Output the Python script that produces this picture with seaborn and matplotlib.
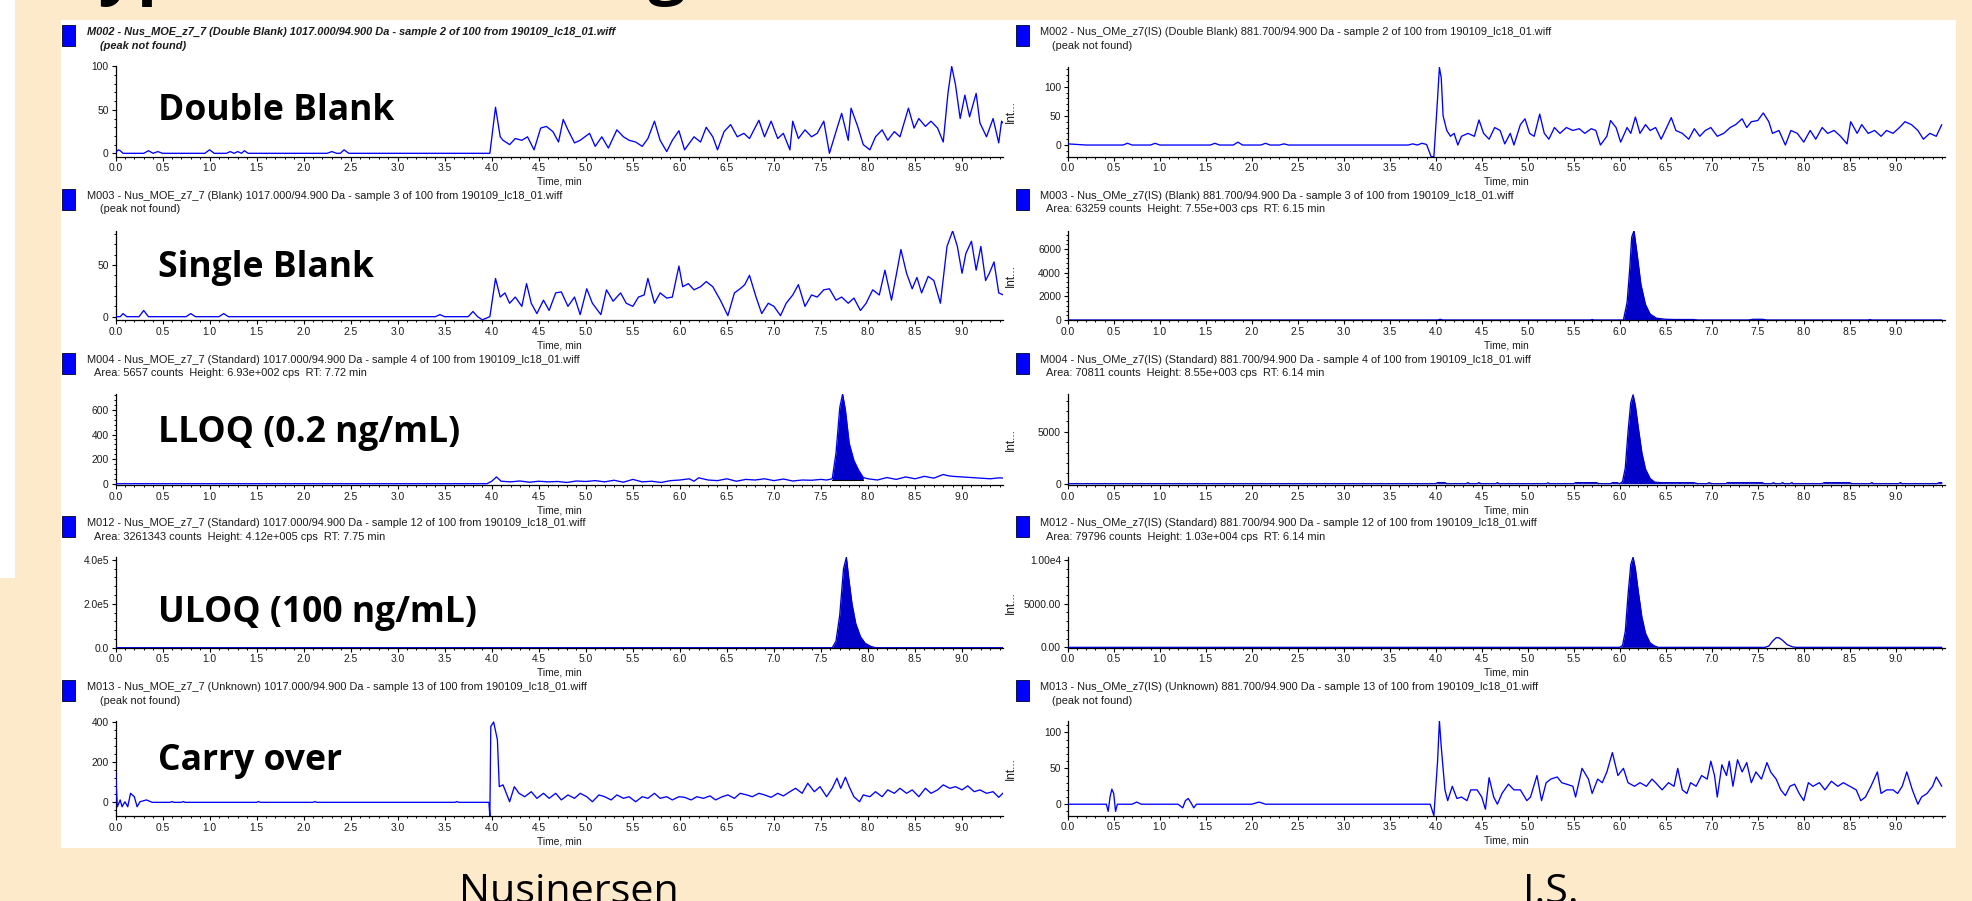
import numpy as np
import matplotlib
matplotlib.use("Agg")
import matplotlib.pyplot as plt
import seaborn as sns
from matplotlib.patches import Rectangle
from matplotlib.ticker import FixedLocator, FixedFormatter, MultipleLocator, AutoMinorLocator

# ---------------------------------------------------------------- data
X_TICKS = [0.0, 0.5, 1.0, 1.5, 2.0, 2.5, 3.0, 3.5, 4.0, 4.5, 5.0, 5.5, 6.0, 6.5, 7.0, 7.5, 8.0, 8.5, 9.0]
X_TICK_LABELS = ["0.0", "0.5", "1.0", "1.5", "2.0", "2.5", "3.0", "3.5", "4.0", "4.5",
                 "5.0", "5.5", "6.0", "6.5", "7.0", "7.5", "8.0", "8.5", "9.0"]

# Nusinersen column (time min, intensity cps)
DOUBLE_BLANK = [(0.0, 1), (0.03, 4), (0.05, 3), (0.08, 0), (0.3, 0), (0.35, 3), (0.4, 0), (0.45, 2), (0.5, 0),
    (0.95, 0), (1.0, 4), (1.05, 0), (1.18, 0), (1.22, 2), (1.26, 0), (1.3, 2), (1.34, 0), (1.37, 3), (1.41, 0),
    (2.25, 0), (2.3, 2), (2.35, 0), (2.39, 0), (2.43, 4), (2.48, 0), (3.98, 0),
    (4.04, 53), (4.09, 19), (4.12, 15), (4.19, 10), (4.25, 17), (4.32, 15), (4.38, 19), (4.45, 4), (4.52, 29), (4.58, 31),
    (4.65, 25), (4.71, 13), (4.76, 39), (4.81, 27), (4.88, 12), (4.94, 15), (5.04, 23), (5.10, 8), (5.17, 19), (5.24, 6),
    (5.33, 27), (5.40, 19), (5.46, 15), (5.53, 13), (5.60, 8), (5.66, 17), (5.73, 37), (5.79, 15), (5.86, 2), (5.92, 15),
    (5.99, 26), (6.05, 4), (6.15, 19), (6.22, 13), (6.28, 30), (6.35, 19), (6.40, 4), (6.47, 25), (6.54, 33), (6.61, 19),
    (6.68, 23), (6.74, 17), (6.84, 38), (6.90, 19), (6.97, 37), (7.04, 17), (7.10, 23), (7.17, 4), (7.20, 37), (7.26, 17),
    (7.33, 27), (7.40, 19), (7.46, 23), (7.53, 37), (7.59, 0), (7.66, 25), (7.72, 46), (7.79, 15), (7.82, 52), (7.89, 31),
    (7.95, 10), (8.02, 4), (8.08, 19), (8.15, 27), (8.21, 15), (8.28, 25), (8.34, 19), (8.43, 52), (8.49, 29), (8.54, 40),
    (8.61, 31), (8.67, 37), (8.74, 29), (8.80, 13), (8.85, 69), (8.89, 100), (8.93, 79), (8.98, 40), (9.03, 67), (9.08, 42),
    (9.15, 69), (9.19, 35), (9.26, 19), (9.33, 40), (9.39, 12), (9.42, 37), (9.49, 27)]

SINGLE_BLANK = [(0.0, 0), (0.05, 0), (0.08, 3), (0.12, 0), (0.25, 0), (0.3, 6), (0.35, 0), (0.75, 0), (0.8, 3), (0.85, 0),
    (1.1, 0), (1.15, 3), (1.2, 0), (3.4, 0), (3.45, 2), (3.5, 0), (3.75, 0), (3.8, 5), (3.85, 0), (3.9, -3), (3.98, 0),
    (4.04, 37), (4.09, 19), (4.14, 23), (4.19, 13), (4.25, 19), (4.32, 10), (4.37, 32), (4.42, 13), (4.48, 3), (4.55, 16),
    (4.61, 6), (4.68, 23), (4.74, 24), (4.81, 10), (4.88, 19), (4.94, 2), (5.01, 27), (5.07, 13), (5.16, 2), (5.22, 26),
    (5.29, 15), (5.37, 23), (5.43, 13), (5.50, 10), (5.56, 19), (5.62, 21), (5.66, 37), (5.73, 13), (5.79, 23), (5.86, 18),
    (5.92, 19), (5.99, 49), (6.03, 29), (6.09, 32), (6.15, 26), (6.22, 29), (6.28, 34), (6.35, 29), (6.43, 16), (6.51, 1),
    (6.58, 23), (6.64, 27), (6.69, 31), (6.74, 40), (6.81, 19), (6.87, 3), (6.94, 13), (7.00, 10), (7.07, 1), (7.13, 13),
    (7.20, 21), (7.26, 31), (7.33, 10), (7.40, 21), (7.46, 19), (7.53, 26), (7.59, 27), (7.66, 16), (7.72, 19), (7.79, 13),
    (7.85, 18), (7.92, 6), (7.98, 13), (8.05, 26), (8.12, 21), (8.18, 45), (8.25, 16), (8.31, 45), (8.35, 65), (8.41, 42),
    (8.47, 27), (8.52, 38), (8.57, 23), (8.64, 39), (8.70, 35), (8.77, 13), (8.84, 68), (8.90, 83), (8.95, 68), (9.00, 42),
    (9.04, 61), (9.10, 73), (9.15, 45), (9.20, 68), (9.25, 35), (9.29, 42), (9.34, 53), (9.39, 23), (9.44, 21), (9.49, 31)]

LLOQ = [(0.0, 0), (3.95, 0), (4.0, 20), (4.05, 55), (4.1, 20), (4.2, 15), (4.3, 22), (4.4, 12), (4.5, 20), (4.6, 15),
    (4.7, 18), (4.8, 10), (4.9, 22), (5.0, 18), (5.1, 25), (5.2, 15), (5.3, 28), (5.4, 12), (5.5, 35), (5.6, 15),
    (5.7, 20), (5.8, 10), (5.9, 25), (6.0, 30), (6.1, 40), (6.15, 20), (6.2, 48), (6.3, 30), (6.4, 25), (6.5, 40),
    (6.6, 20), (6.7, 35), (6.8, 30), (6.9, 40), (7.0, 25), (7.1, 38), (7.2, 22), (7.3, 30), (7.4, 28), (7.5, 35),
    (7.56, 30), (7.62, 40), (7.66, 250), (7.70, 620), (7.73, 730), (7.76, 600), (7.80, 330), (7.85, 190), (7.90, 110),
    (7.95, 50), (8.0, 40), (8.1, 30), (8.2, 50), (8.3, 35), (8.4, 55), (8.5, 40), (8.6, 60), (8.7, 45), (8.8, 75),
    (8.85, 65), (8.9, 60), (9.0, 55), (9.1, 50), (9.2, 45), (9.3, 40), (9.4, 48), (9.49, 42)]
LLOQ_PEAK = (7.62, 7.95, 30)   # integration start, end, baseline

ULOQ = [(0.0, 0), (7.62, 0), (7.66, 3e4), (7.70, 1.5e5), (7.74, 3.6e5), (7.77, 4.12e5), (7.80, 3.0e5), (7.83, 2.0e5),
    (7.87, 1.1e5), (7.92, 5e4), (7.97, 2e4), (8.03, 6e3), (8.08, 0), (9.49, 0)]
ULOQ_PEAK = (7.62, 8.08, 0)

CARRY_OVER = [(0.0, 153), (0.02, -22), (0.05, 12), (0.07, -22), (0.10, 3), (0.13, -22), (0.16, 45), (0.20, 28), (0.23, -22),
    (0.26, 3), (0.33, 12), (0.39, 0), (0.58, 0), (0.6, 4), (0.62, 0), (0.7, 0), (0.72, 4), (0.74, 0), (1.5, 0), (1.52, 4),
    (1.54, 0), (2.1, 0), (2.12, 4), (2.14, 0), (3.61, 0), (3.63, 4), (3.65, 0), (3.97, 0), (3.98, -72), (3.99, 378),
    (4.02, 400), (4.06, 312), (4.08, 78), (4.12, 87), (4.19, 3), (4.24, 78), (4.29, 45), (4.35, 28), (4.42, 53), (4.48, 20),
    (4.55, 45), (4.61, 20), (4.68, 45), (4.74, 12), (4.81, 37), (4.88, 20), (4.94, 45), (5.01, 28), (5.07, 3), (5.14, 37),
    (5.20, 28), (5.27, 12), (5.33, 37), (5.40, 20), (5.46, 28), (5.53, 3), (5.60, 28), (5.66, 20), (5.73, 45), (5.79, 20),
    (5.86, 28), (5.92, 12), (5.99, 28), (6.05, 25), (6.12, 12), (6.18, 28), (6.25, 20), (6.32, 32), (6.38, 12), (6.45, 28),
    (6.51, 37), (6.58, 20), (6.64, 45), (6.71, 37), (6.77, 28), (6.84, 45), (6.90, 37), (6.97, 25), (7.04, 45), (7.10, 32),
    (7.17, 53), (7.23, 70), (7.30, 45), (7.36, 95), (7.43, 53), (7.49, 78), (7.56, 28), (7.62, 70), (7.67, 120), (7.71, 70),
    (7.76, 125), (7.80, 78), (7.85, 28), (7.91, 3), (7.95, 37), (8.02, 28), (8.08, 53), (8.15, 28), (8.21, 62), (8.28, 45),
    (8.34, 70), (8.41, 45), (8.47, 62), (8.54, 28), (8.61, 70), (8.67, 45), (8.74, 62), (8.80, 87), (8.87, 70), (8.93, 78),
    (9.00, 62), (9.06, 82), (9.13, 53), (9.19, 62), (9.26, 45), (9.33, 53), (9.39, 25), (9.44, 48), (9.49, 45)]

# I.S. column
IS_DOUBLE_BLANK = [(0.0, 2), (0.1, 1), (0.2, 0), (0.6, 0), (0.65, 3), (0.7, 0), (0.9, 0), (0.95, 3), (1.0, 0), (1.55, 0),
    (1.6, 3), (1.65, 0), (1.8, 0), (1.85, 5), (1.9, 0), (2.1, 0), (2.15, 3), (2.2, 0), (2.3, 0), (2.35, 2), (2.4, 0),
    (3.7, 0), (3.75, 2), (3.8, 0), (3.85, 3), (3.9, 1), (3.95, -20), (3.98, -20), (4.02, 80), (4.04, 133), (4.06, 115),
    (4.08, 50), (4.12, 25), (4.16, 15), (4.20, 20), (4.24, 0), (4.28, 15), (4.35, 20), (4.42, 15), (4.47, 43), (4.52, 20),
    (4.58, 10), (4.64, 30), (4.70, 25), (4.75, 2), (4.81, 20), (4.85, 0), (4.92, 35), (4.97, 45), (5.02, 20), (5.07, 15),
    (5.13, 53), (5.18, 20), (5.23, 10), (5.29, 30), (5.35, 20), (5.42, 30), (5.49, 25), (5.56, 28), (5.62, 20), (5.69, 28),
    (5.74, 25), (5.79, 0), (5.86, 15), (5.90, 42), (5.96, 30), (6.01, 5), (6.08, 30), (6.12, 20), (6.17, 48), (6.22, 20),
    (6.28, 35), (6.33, 25), (6.39, 30), (6.45, 10), (6.51, 30), (6.56, 47), (6.61, 25), (6.68, 20), (6.75, 10), (6.81, 28),
    (6.87, 15), (6.93, 25), (6.99, 30), (7.06, 15), (7.13, 20), (7.20, 30), (7.26, 35), (7.33, 45), (7.38, 30), (7.43, 40),
    (7.50, 42), (7.56, 55), (7.62, 40), (7.66, 20), (7.73, 25), (7.80, 0), (7.86, 25), (7.93, 20), (8.00, 5), (8.07, 25),
    (8.13, 10), (8.20, 30), (8.26, 20), (8.33, 25), (8.40, 15), (8.47, 2), (8.51, 40), (8.58, 20), (8.63, 35), (8.70, 20),
    (8.77, 25), (8.84, 15), (8.90, 25), (8.97, 20), (9.04, 30), (9.10, 40), (9.17, 35), (9.24, 25), (9.30, 10), (9.37, 20),
    (9.44, 15), (9.50, 35)]

IS_BLANK = [(0.0, 0), (4.02, 0), (4.05, 60), (4.08, 0), (5.68, 0), (5.7, 40), (5.72, 0), (6.04, 0), (6.08, 1500),
    (6.11, 4500), (6.13, 7000), (6.155, 7550), (6.19, 5500), (6.23, 3000), (6.28, 1300), (6.33, 500), (6.40, 150),
    (6.50, 60), (6.6, 40), (6.8, 40), (6.85, 0), (7.4, 0), (7.45, 60), (7.55, 60), (7.6, 0), (8.7, 0), (8.72, 40),
    (8.74, 0), (9.5, 0)]
IS_BLANK_PEAK = (0.0, 9.5, 0)

IS_LLOQ = [(0.0, 0), (4.0, 0), (4.02, 100), (4.1, 100), (4.12, 0), (4.33, 0), (4.35, 100), (4.37, 0), (4.45, 0),
    (4.47, 100), (4.49, 0), (4.65, 0), (4.67, 100), (4.69, 0), (5.2, 0), (5.22, 80), (5.24, 0), (5.5, 0), (5.52, 100),
    (5.75, 100), (5.77, 0), (5.9, 0), (5.92, 100), (5.97, 100), (6.0, 0), (6.03, 200), (6.06, 1500), (6.09, 5000),
    (6.12, 7800), (6.145, 8550), (6.17, 7500), (6.2, 5500), (6.24, 3000), (6.28, 1400), (6.33, 500), (6.38, 150),
    (6.45, 100), (6.8, 100), (6.85, 0), (6.95, 0), (6.97, 100), (7.0, 0), (7.15, 0), (7.17, 100), (7.55, 100), (7.57, 0),
    (7.65, 0), (7.67, 100), (7.69, 0), (7.75, 0), (7.77, 100), (7.79, 0), (7.85, 0), (7.87, 100), (7.89, 0), (8.2, 0),
    (8.22, 100), (8.5, 100), (8.52, 0), (8.72, 0), (8.74, 100), (8.76, 0), (9.03, 0), (9.05, 100), (9.07, 0), (9.45, 0),
    (9.47, 100), (9.5, 100)]
IS_LLOQ_PEAK = (0.0, 9.5, 0)

IS_ULOQ = [(0.0, 0), (6.0, 0), (6.03, 200), (6.06, 1800), (6.09, 6000), (6.12, 9500), (6.145, 10300), (6.17, 9000),
    (6.2, 6500), (6.24, 3500), (6.28, 1600), (6.33, 500), (6.38, 150), (6.42, 0), (7.58, 0), (7.62, 150), (7.66, 700),
    (7.70, 1100), (7.73, 1100), (7.77, 800), (7.82, 300), (7.88, 50), (7.92, 0), (9.5, 0)]
IS_ULOQ_PEAK = (6.0, 6.42, 0)

IS_CARRY_OVER = [(0.0, 0), (0.42, 0), (0.44, -10), (0.46, 10), (0.48, 21), (0.5, 15), (0.52, -10), (0.54, 0), (0.7, 0),
    (0.75, 3), (0.8, 0), (1.2, 0), (1.25, -5), (1.28, 5), (1.31, 8), (1.34, 2), (1.37, -5), (1.4, 0), (2.0, 0), (2.08, 3),
    (2.15, 0), (3.94, 0), (3.98, -16), (4.02, 60), (4.04, 116), (4.06, 80), (4.10, 20), (4.13, 5), (4.18, 25), (4.23, 8),
    (4.28, 10), (4.34, 5), (4.38, 20), (4.45, 20), (4.50, 10), (4.54, -7), (4.58, 37), (4.63, 10), (4.67, 0), (4.72, 15),
    (4.79, 28), (4.85, 20), (4.92, 20), (4.99, 5), (5.03, 10), (5.10, 40), (5.15, 5), (5.20, 30), (5.25, 35), (5.32, 38),
    (5.37, 30), (5.42, 28), (5.49, 25), (5.52, 10), (5.59, 50), (5.66, 35), (5.70, 15), (5.76, 35), (5.81, 30), (5.86, 45),
    (5.92, 72), (5.98, 40), (6.04, 50), (6.09, 30), (6.16, 25), (6.22, 30), (6.29, 25), (6.35, 35), (6.39, 30), (6.46, 20),
    (6.53, 30), (6.59, 25), (6.63, 50), (6.68, 20), (6.73, 15), (6.77, 30), (6.83, 25), (6.89, 40), (6.95, 35), (6.99, 60),
    (7.03, 40), (7.06, 10), (7.11, 55), (7.16, 40), (7.19, 60), (7.23, 25), (7.28, 62), (7.33, 45), (7.38, 58), (7.43, 30),
    (7.48, 45), (7.54, 35), (7.60, 58), (7.64, 45), (7.70, 35), (7.75, 20), (7.80, 12), (7.85, 25), (7.90, 28), (7.95, 15),
    (8.00, 5), (8.05, 30), (8.10, 25), (8.17, 30), (8.23, 20), (8.30, 32), (8.37, 25), (8.43, 30), (8.50, 25), (8.57, 20),
    (8.62, 5), (8.67, 10), (8.73, 25), (8.80, 45), (8.84, 15), (8.90, 20), (8.97, 20), (9.02, 15), (9.07, 25), (9.12, 45),
    (9.18, 20), (9.24, 0), (9.28, 10), (9.34, 15), (9.40, 25), (9.44, 38), (9.50, 25)]

LEFT_TRACES = [DOUBLE_BLANK, SINGLE_BLANK, LLOQ, ULOQ, CARRY_OVER]
LEFT_PEAKS = [None, None, LLOQ_PEAK, ULOQ_PEAK, None]
RIGHT_TRACES = [IS_DOUBLE_BLANK, IS_BLANK, IS_LLOQ, IS_ULOQ, IS_CARRY_OVER]
RIGHT_PEAKS = [None, IS_BLANK_PEAK, IS_LLOQ_PEAK, IS_ULOQ_PEAK, None]

LEFT_YTICKS = [[0, 50, 100], [0, 50], [0, 200, 400, 600], [0, 2e5, 4e5], [0, 200, 400]]
LEFT_YLABELS = [["0", "50", "100"], ["0", "50"], ["0", "200", "400", "600"], ["0.0", "2.0e5", "4.0e5"], ["0", "200", "400"]]
RIGHT_YTICKS = [[0, 50, 100], [0, 2000, 4000, 6000], [0, 5000], [0, 5000, 1e4], [0, 50, 100]]
RIGHT_YLABELS = [["0", "50", "100"], ["0", "2000", "4000", "6000"], ["0", "5000"], ["0.00", "5000.00", "1.00e4"], ["0", "50", "100"]]

LEFT_HEAD = [
    "M002 - Nus_MOE_z7_7 (Double Blank) 1017.000/94.900 Da - sample 2 of 100 from 190109_lc18_01.wiff",
    "M003 - Nus_MOE_z7_7 (Blank) 1017.000/94.900 Da - sample 3 of 100 from 190109_lc18_01.wiff",
    "M004 - Nus_MOE_z7_7 (Standard) 1017.000/94.900 Da - sample 4 of 100 from 190109_lc18_01.wiff",
    "M012 - Nus_MOE_z7_7 (Standard) 1017.000/94.900 Da - sample 12 of 100 from 190109_lc18_01.wiff",
    "M013 - Nus_MOE_z7_7 (Unknown) 1017.000/94.900 Da - sample 13 of 100 from 190109_lc18_01.wiff"]
LEFT_SUB = ["(peak not found)", "(peak not found)",
    "Area: 5657 counts  Height: 6.93e+002 cps  RT: 7.72 min",
    "Area: 3261343 counts  Height: 4.12e+005 cps  RT: 7.75 min",
    "(peak not found)"]
RIGHT_HEAD = [
    "M002 - Nus_OMe_z7(IS) (Double Blank) 881.700/94.900 Da - sample 2 of 100 from 190109_lc18_01.wiff",
    "M003 - Nus_OMe_z7(IS) (Blank) 881.700/94.900 Da - sample 3 of 100 from 190109_lc18_01.wiff",
    "M004 - Nus_OMe_z7(IS) (Standard) 881.700/94.900 Da - sample 4 of 100 from 190109_lc18_01.wiff",
    "M012 - Nus_OMe_z7(IS) (Standard) 881.700/94.900 Da - sample 12 of 100 from 190109_lc18_01.wiff",
    "M013 - Nus_OMe_z7(IS) (Unknown) 881.700/94.900 Da - sample 13 of 100 from 190109_lc18_01.wiff"]
RIGHT_SUB = ["(peak not found)",
    "Area: 63259 counts  Height: 7.55e+003 cps  RT: 6.15 min",
    "Area: 70811 counts  Height: 8.55e+003 cps  RT: 6.14 min",
    "Area: 79796 counts  Height: 1.03e+004 cps  RT: 6.14 min",
    "(peak not found)"]

SAMPLE_LABELS = ["Double Blank", "Single Blank", "LLOQ (0.2 ng/mL)", "ULOQ (100 ng/mL)", "Carry over"]
COLUMN_LABELS = ["Nusinersen", "I.S."]
SLIDE_TITLE = "Typical Chromatograms"

# ---------------------------------------------------------------- layout (pixels)
W, H = 1972, 901
BEIGE = "#FDEACA"
LINE = "#0000FF"
FILL = "#0000C8"
TXT = "#1c1c1c"

ROW_TOP_L = [66, 230.7, 394.3, 557.3, 721]
ROW_BOT_L = [156.7, 320, 485, 647.7, 816]
ROW_TOP_R = [66.7, 230.7, 394.3, 557.3, 721]
ROW_BOT_R = [156.7, 320, 485, 647.7, 815.7]
YLIM_L = [(-3.9, 100.5), (-3.2, 83.2), (-10.6, 728), (0, 4.12e5), (-68, 405)]
YLIM_R = [(-20, 134.3), (0, 7550), (-125, 8600), (-40, 1.03e4), (-16, 116)]
AX_L = (115.5, 1002.5, 9.43)
AX_R = (1067.7, 1945.0, 9.535)
HDR_Y1 = [32, 196, 360, 523.3, 687.3]
HDR_Y2 = [46, 209, 372.7, 536.7, 701]
LABEL_BASE = [120, 276.7, 441.7, 621.7, 770]

sns.set_theme(style="white")
plt.rcParams["font.family"] = ["Liberation Sans", "DejaVu Sans"]

fig = plt.figure(figsize=(W / 100, H / 100), dpi=100, facecolor=BEIGE)
R = fig.canvas.get_renderer()


def fx(px):
    return px / W


def fy(py):
    return 1 - py / H


def text_w(text, size=10, **kw):
    t = fig.text(0, 0, text, fontsize=size, **kw)
    w = t.get_window_extent(renderer=R).width
    t.remove()
    return w


def fit_size(text, target_px, **kw):
    return 10 * target_px / text_w(text, **kw)


# slide background pieces
fig.patches.append(Rectangle((0, fy(578)), fx(15), 578 / H, transform=fig.transFigure,
                             facecolor="white", edgecolor="none", zorder=-5))
fig.patches.append(Rectangle((fx(61), fy(848)), fx(1956 - 61), (848 - 20) / H, transform=fig.transFigure,
                             facecolor="white", edgecolor="none", zorder=-5))

# cut-off slide title: only the descenders of y, p and g show at the top edge
title_kw = dict(fontweight="bold", family=["Open Sans", "DejaVu Sans"])
w_T = text_w("T", **title_kw)
w_pre = text_w("Typical Chromato", **title_kw)
title_size = 10 * 550 / (w_pre - w_T)
title_x = 100 - w_T * title_size / 10
em_px = title_size * 100 / 72
title_base = -(0.24 * em_px - 7)
fig.text(fx(title_x), fy(title_base), SLIDE_TITLE, fontsize=title_size, color="black",
         va="baseline", ha="left", **title_kw)

hdr_size = fit_size(LEFT_HEAD[1], 474)
tick_size = 7.4


def style_axis(ax, xmax, ylim, yticks, ylabels):
    ax.set_facecolor("none")
    for s in ["top", "right"]:
        ax.spines[s].set_visible(False)
    for s in ["left", "bottom"]:
        ax.spines[s].set_color("black")
        ax.spines[s].set_linewidth(0.9)
    ax.set_xlim(0, xmax)
    ax.set_ylim(*ylim)
    ax.xaxis.set_major_locator(FixedLocator(X_TICKS))
    ax.xaxis.set_major_formatter(FixedFormatter(X_TICK_LABELS))
    ax.xaxis.set_minor_locator(MultipleLocator(0.1))
    ax.yaxis.set_major_locator(FixedLocator(yticks))
    ax.yaxis.set_major_formatter(FixedFormatter(ylabels))
    ax.yaxis.set_minor_locator(AutoMinorLocator(5))
    ax.tick_params(which="major", direction="out", length=3.2, width=0.8, color="black",
                   labelsize=tick_size, labelcolor=TXT, pad=1.6, left=True, bottom=True)
    ax.tick_params(which="minor", direction="out", length=1.6, width=0.7, color="black", left=True, bottom=True)
    ax.set_xlabel("Time, min", fontsize=tick_size, color=TXT, labelpad=2.5)
    ax.set_ylabel("")
    ax.grid(False)


def draw_panel(col, i, trace, peak, ylim, yticks, ylabels, top, bot):
    left, right, xmax = AX_L if col == 0 else AX_R
    ax = fig.add_axes([fx(left), fy(bot), fx(right - left), (bot - top) / H])
    t = np.array([p[0] for p in trace], dtype=float)
    v = np.array([p[1] for p in trace], dtype=float)
    if peak is not None:
        a, b, base = peak
        m = (t >= a) & (t <= b)
        ax.fill_between(t[m], v[m], base, color=FILL, lw=0, zorder=2)
        if col == 0 and i == 2:
            ax.plot([a, b], [base, base], color="black", lw=0.8, zorder=3)
    sns.lineplot(x=t, y=v, ax=ax, color=LINE if peak is None or (col == 0 and i == 2) else FILL,
                 linewidth=0.95, estimator=None, sort=False, legend=False, zorder=3)
    style_axis(ax, xmax, ylim, yticks, ylabels)
    return ax


for i in range(5):
    draw_panel(0, i, LEFT_TRACES[i], LEFT_PEAKS[i], YLIM_L[i], LEFT_YTICKS[i], LEFT_YLABELS[i], ROW_TOP_L[i], ROW_BOT_L[i])
    draw_panel(1, i, RIGHT_TRACES[i], RIGHT_PEAKS[i], YLIM_R[i], RIGHT_YTICKS[i], RIGHT_YLABELS[i], ROW_TOP_R[i], ROW_BOT_R[i])
    # right column y label
    fig.text(fx(1011), fy((ROW_TOP_R[i] + ROW_BOT_R[i]) / 2), "Int...", rotation=90, fontsize=8.5,
             color=TXT, ha="center", va="center")

# headers with blue markers
for col, heads, subs in [(0, LEFT_HEAD, LEFT_SUB), (1, RIGHT_HEAD, RIGHT_SUB)]:
    mx = 62 if col == 0 else 1016
    x1 = 87 if col == 0 else 1040
    for i in range(5):
        y1, y2 = HDR_Y1[i], HDR_Y2[i]
        fig.patches.append(Rectangle((fx(mx), fy(y1 + 14)), fx(12.5), 21 / H, transform=fig.transFigure,
                                     facecolor="#0000FF", edgecolor="#10104a", lw=0.7, zorder=3))
        sel = (col == 0 and i == 0)
        kw = dict(fontsize=hdr_size, color=TXT, va="center", ha="left",
                  fontweight="bold" if sel else "normal", fontstyle="italic" if sel else "normal")
        fig.text(fx(x1), fy(y1), heads[i], **kw)
        sub = subs[i]
        x2 = x1 + (12.5 if sub.startswith("(") else 6.5)
        fig.text(fx(x2), fy(y2), sub, **kw)

# big sample labels
big_kw = dict(fontweight="bold", family=["Open Sans", "DejaVu Sans"])
big_size = fit_size(SAMPLE_LABELS[0], 238, **big_kw)
for i, lab in enumerate(SAMPLE_LABELS):
    fig.text(fx(158.5), fy(LABEL_BASE[i]), lab, fontsize=big_size, color="black",
             va="baseline", ha="left", zorder=10, **big_kw)

# column captions
cap_kw = dict(family=["Open Sans", "DejaVu Sans"])
cap_size = fit_size(COLUMN_LABELS[0], 220, **cap_kw)
for lab, cx in zip(COLUMN_LABELS, [569, 1551]):
    fig.text(fx(cx), fy(903), lab, fontsize=cap_size, color="black", ha="center", va="baseline", **cap_kw)

fig.savefig("out.png", dpi=100, facecolor=BEIGE)
